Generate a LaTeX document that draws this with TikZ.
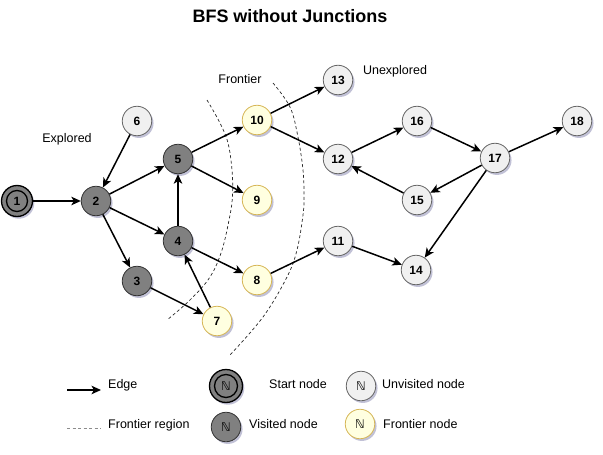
\documentclass[tikz,border=0pt]{standalone}
\usepackage{fontspec}
\setmainfont{Liberation Sans}
\newfontfamily\dvfont{DejaVu Sans}
\usetikzlibrary{arrows.meta,shadows}
\definecolor{visfill}{HTML}{808080}
\definecolor{visdraw}{HTML}{333333}
\definecolor{unvfill}{HTML}{F0F0F0}
\definecolor{unvdraw}{HTML}{666666}
\definecolor{frfill}{HTML}{FFFFE0}
\definecolor{frdraw}{HTML}{D6B656}
\tikzset{
  shad/.style={drop shadow={shadow xshift=1.8pt,shadow yshift=-2.2pt,opacity=0.3,fill=black!55!blue!60!gray}},
  nd/.style={circle, minimum size=29.5pt, inner sep=0pt, font=\bfseries\fontsize{12}{14}\selectfont, line width=0.8pt, shad},
  visited/.style={nd, fill=visfill, draw=visdraw},
  unvis/.style={nd, fill=unvfill, draw=unvdraw},
  front/.style={nd, fill=frfill, draw=frdraw},
  startouter/.style={nd, fill=visfill, draw=black, line width=1.3pt, minimum size=31pt},
  startinner/.style={circle, draw=black, line width=1.3pt, minimum size=21pt, inner sep=0pt, font=\bfseries\fontsize{12}{14}\selectfont},
  edge/.style={line width=1.5pt, -{Stealth[length=9.5pt,width=8.5pt,inset=2.5pt]}},
  lbl/.style={font=\fontsize{12.5}{15}\selectfont, inner sep=0pt},
  arcline/.style={line width=0.7pt, draw=black!85, dash pattern=on 3pt off 2.5pt},
  legN/.style={font=\dvfont\fontsize{12}{14}\selectfont},
}
\begin{document}
\begin{tikzpicture}[x=1pt,y=-1pt]
\useasboundingbox (0,0) rectangle (603,455);

% title
\node[font=\bfseries\fontsize{18}{22}\selectfont, inner sep=0pt] (title) at (290,16) {BFS without Junctions};

% frontier arcs
\draw[arcline] plot[smooth, tension=0.6] coordinates {(207,100) (220,123) (228,143) (232,170) (232.5,195) (230,215) (222,250) (210,277) (190,300) (167,320)};
\draw[arcline] plot[smooth, tension=0.6] coordinates {(273,83) (290,107) (298,137) (303,170) (304,195) (303,215) (297,250) (287,277) (263,317) (230,355)};

% region labels
\node[lbl] (lexp) at (67,139) {Explored};
\node[lbl] (lfro) at (240,79) {Frontier};
\node[lbl] (lunx) at (395,71) {Unexplored};

% nodes
\node[startouter] (n1) at (17,201) {};
\node[startinner] (n1i) at (n1) {1};
\node[visited] (n2) at (96,201) {2};
\node[unvis] (n6) at (137,121) {6};
\node[visited] (n5) at (178,159) {5};
\node[visited] (n4) at (178,241) {4};
\node[visited] (n3) at (137,281) {3};
\node[front] (n7) at (217,321) {7};
\node[front] (n10) at (257,120) {10};
\node[front] (n9) at (257,200) {9};
\node[front] (n8) at (257,280) {8};
\node[unvis] (n13) at (338,80) {13};
\node[unvis] (n12) at (338,159) {12};
\node[unvis] (n11) at (338,241) {11};
\node[unvis] (n16) at (417,121) {16};
\node[unvis] (n15) at (417,200) {15};
\node[unvis] (n14) at (416,270) {14};
\node[unvis] (n17) at (495,158) {17};
\node[unvis] (n18) at (577,121) {18};

% edges
\draw[edge] (n1) -- (n2);
\draw[edge] (n6) -- (n2);
\draw[edge] (n2) -- (n5);
\draw[edge] (n2) -- (n4);
\draw[edge] (n2) -- (n3);
\draw[edge] (n5) -- (n10);
\draw[edge] (n5) -- (n9);
\draw[edge] (n4) -- (n5);
\draw[edge] (n4) -- (n8);
\draw[edge] (n3) -- (n7);
\draw[edge] (n7) -- (n4);
\draw[edge] (n10) -- (n13);
\draw[edge] (n10) -- (n12);
\draw[edge] (n8) -- (n11);
\draw[edge] (n12) -- (n16);
\draw[edge] (n16) -- (n17);
\draw[edge] (n17) -- (n18);
\draw[edge] (n17) -- (n15);
\draw[edge] (n15) -- (n12);
\draw[edge] (n17) -- (n14);
\draw[edge] (n11) -- (n14);

% legend
\coordinate (ea) at (67,390);
\coordinate (eb) at (101,390);
\draw[edge] (ea) -- (eb);
\node[lbl, anchor=west] (tedge) at (108,385) {Edge};

\coordinate (da) at (67,428);
\coordinate (db) at (101,428);
\draw[line width=0.8pt, draw=black!45, dash pattern=on 3pt off 2.5pt] (da) -- (db);
\node[lbl, anchor=west] (tfr) at (108,425) {Frontier region};

\node[startouter, minimum size=33pt] (ls) at (226,386) {};
\node[startinner, minimum size=23pt, legN] (lsi) at (ls) {ℕ};
\node[lbl, anchor=west] (tstart) at (269,384) {Start node};

\node[visited, legN] (lv) at (226,427) {ℕ};
\node[lbl, anchor=west] (tvis) at (249,424) {Visited node};

\node[unvis, legN] (lu) at (361,386) {ℕ};
\node[lbl, anchor=west] (tunv) at (382,384) {Unvisited node};

\node[front, legN] (lf) at (360,424) {ℕ};
\node[lbl, anchor=west] (tfn) at (383,424) {Frontier node};
\end{tikzpicture}
\end{document}
